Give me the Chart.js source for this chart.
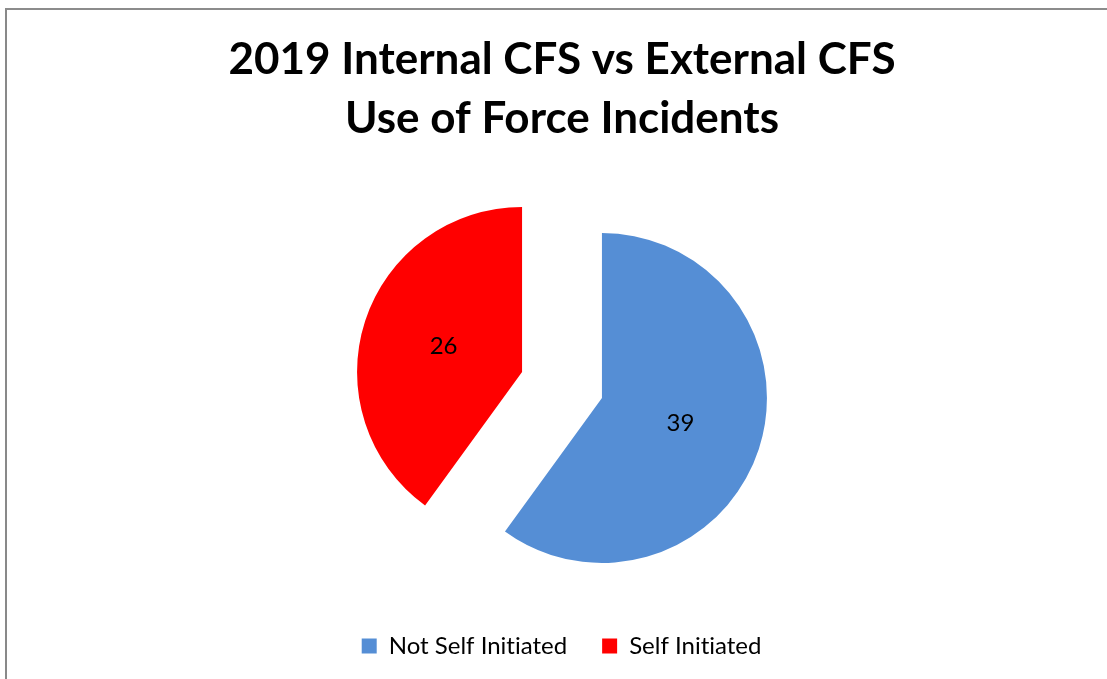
<!DOCTYPE html>
<html>
<head>
<meta charset="utf-8">
<title>2019 Use of Force Incidents</title>
<script src="https://cdn.jsdelivr.net/npm/chart.js@4.4.0/dist/chart.umd.min.js"></script>
<style>
    html, body { margin: 0; padding: 0; background: #ffffff; }
    #frame { position: relative; width: 1107px; height: 679px; overflow: hidden; }
    /* grey chart-object edge, open on the right and bottom */
    #frame .edge {
        position: absolute; left: 5px; top: 8px; right: -10px; bottom: -10px;
        border-left: 2px solid #898989; border-top: 2px solid #8c8c8c;
    }
    #frame canvas { position: absolute; left: 0; top: 0; }
</style>
</head>
<body>
<div id="frame">
    <div class="edge"></div>
    <canvas id="forceChart" width="1107" height="679"></canvas>
</div>
<script>
const categories = ['Not Self Initiated', 'Self Initiated'];
const incidents = [39, 26];
const sliceColors = ['#558ED5', '#FF0000'];
const titleLines = ['2019 Internal CFS vs External CFS', 'Use of Force Incidents'];

// Push each slice away from the centre along its mid angle (exploded pie),
// then write the value in the middle of the slice.
const explodeSlices = {
    id: 'explodeSlices',
    beforeDraw(chart) {
        // no "ti" ligature in Initiated
        chart.ctx.textRendering = 'optimizeSpeed';
    },
    beforeDatasetDraw(chart, args, opts) {
        const ctx = chart.ctx;
        args.meta.data.forEach(arc => {
            const mid = (arc.startAngle + arc.endAngle) / 2;
            ctx.save();
            ctx.translate(Math.cos(mid) * opts.distance, Math.sin(mid) * opts.distance);
            arc.draw(ctx);
            ctx.restore();
        });
        return false;
    },
    afterDatasetsDraw(chart, args, opts) {
        const ctx = chart.ctx;
        const meta = chart.getDatasetMeta(0);
        const values = chart.data.datasets[0].data;
        ctx.save();
        ctx.font = opts.font;
        ctx.fillStyle = opts.color;
        ctx.textAlign = 'center';
        ctx.textBaseline = 'middle';
        meta.data.forEach((arc, i) => {
            const mid = (arc.startAngle + arc.endAngle) / 2;
            const pos = arc.tooltipPosition();
            ctx.fillText(String(values[i]),
                pos.x + Math.cos(mid) * opts.distance,
                pos.y + Math.sin(mid) * opts.distance);
        });
        ctx.restore();
    }
};

const ctx = document.getElementById('forceChart');

new Chart(ctx, {
    type: 'pie',
    data: {
        labels: categories,
        datasets: [{
            data: incidents,
            backgroundColor: sliceColors,
            borderWidth: 0
        }]
    },
    options: {
        responsive: false,
        animation: false,
        radius: 165,
        layout: {
            padding: { left: 17, right: 0, top: 0, bottom: 11 }
        },
        plugins: {
            title: {
                display: true,
                text: titleLines,
                color: '#000000',
                font: { family: 'Lato', size: 44, weight: 'bold', lineHeight: 1.341 },
                padding: { top: 30, bottom: 23 }
            },
            legend: {
                position: 'bottom',
                labels: {
                    boxWidth: 15,
                    boxHeight: 15,
                    padding: 35,
                    color: '#000000',
                    font: { family: 'Lato', size: 24 }
                }
            },
            tooltip: { enabled: false },
            explodeSlices: {
                distance: 42,
                font: '24px Lato',
                color: '#000000'
            }
        }
    },
    plugins: [explodeSlices]
});
</script>
</body>
</html>
